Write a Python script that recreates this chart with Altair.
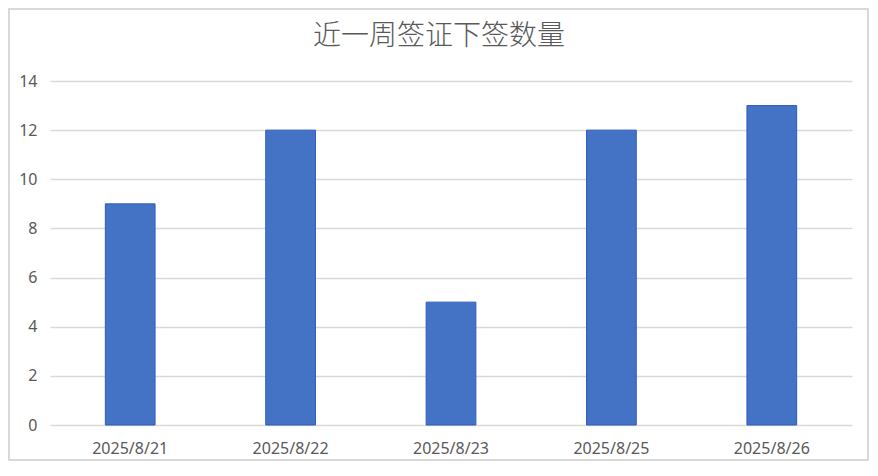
import altair as alt
import pandas as pd

dates = ["2025/8/21", "2025/8/22", "2025/8/23", "2025/8/25", "2025/8/26"]
counts = [9, 12, 5, 12, 13]
y_ticks = [0, 2, 4, 6, 8, 10, 12, 14]
title_text = "近一周签证下签数量"

df = pd.DataFrame({"date": dates, "count": counts})

W, H = 802, 344
PL, PT, PR, PB = 42, 73, 18, 37

bars = alt.Chart(df).mark_bar(
    color="#4472C4", stroke="#2F5BBF", strokeWidth=1
).encode(
    x=alt.X("date:N", sort=dates,
            scale=alt.Scale(paddingInner=0.69, paddingOuter=0.345),
            axis=alt.Axis(title=None, labelAngle=0, domain=False, ticks=False,
                          labelFont="Noto Sans", labelFontSize=16,
                          labelColor="#595959", labelPadding=15, grid=False)),
    y=alt.Y("count:Q", scale=alt.Scale(domain=[0, 14], nice=False),
            axis=alt.Axis(title=None, values=y_ticks, domain=False, ticks=False,
                          labelFont="Noto Sans", labelFontSize=16,
                          labelColor="#595959", labelPadding=13,
                          gridColor="#D9D9D9", gridWidth=1.5)),
)

title = alt.Chart(pd.DataFrame({"t": [title_text]})).mark_text(
    font="Noto Sans CJK SC", fontSize=28, fontWeight=300, color="#595959",
    align="center", baseline="middle"
).encode(text="t:N", x=alt.value(389), y=alt.value(-44))

border = alt.Chart(pd.DataFrame({"a": [0]})).mark_rect(
    fill=None, stroke="#D9D9D9", strokeWidth=2
).encode(x=alt.value(-41), x2=alt.value(818), y=alt.value(-72), y2=alt.value(379))

chart = alt.layer(border, bars, title).properties(
    width=W, height=H,
    autosize=alt.AutoSizeParams(type="none"),
    padding={"left": PL, "top": PT, "right": PR, "bottom": PB},
).configure_view(stroke=None)

chart.save("out.html", embed_options={"renderer": "svg", "actions": False})
